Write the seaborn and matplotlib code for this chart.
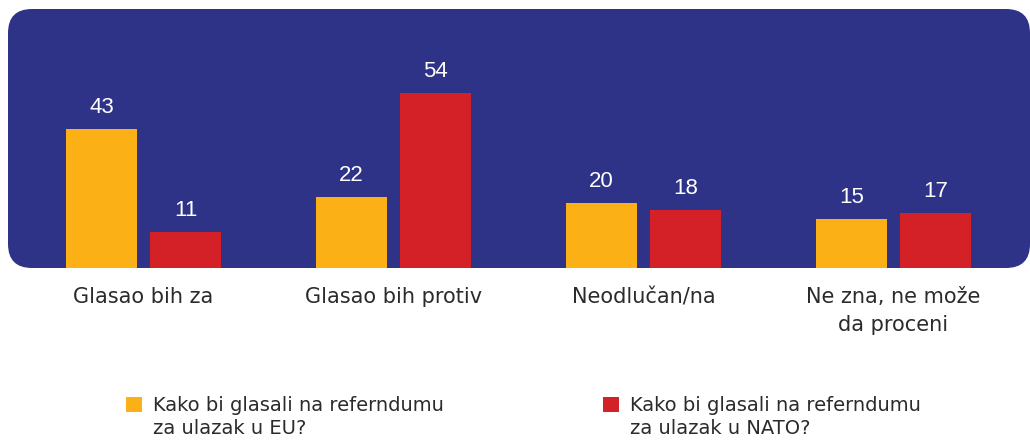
import pandas as pd
import matplotlib.pyplot as plt
import seaborn as sns
from matplotlib.patches import FancyBboxPatch, Patch, Rectangle
from matplotlib.legend_handler import HandlerPatch

# data
categories = ['Glasao bih za', 'Glasao bih protiv', 'Neodlučan/na', 'Ne zna, ne može\nda proceni']
series_names = ['Kako bi glasali na referndumu\nza ulazak u EU?',
                'Kako bi glasali na referndumu\nza ulazak u NATO?']
eu_values = [43, 22, 20, 15]
nato_values = [11, 54, 18, 17]

colors = ['#FBB116', '#D42027']
bg_color = '#2E3388'
text_color = '#2B2B2B'
legend_fs = 14
legend_ls = 1.3

df = pd.DataFrame({
    'category': categories * 2,
    'series': [series_names[0]] * 4 + [series_names[1]] * 4,
    'value': eu_values + nato_values,
})

sns.set_style('white')
plt.rcParams['font.family'] = ['DejaVu Sans']

fig = plt.figure(figsize=(10.30, 4.41), dpi=100)

# rounded dark blue panel behind the bars
panel = FancyBboxPatch((0.08, 1.73), 10.22, 2.59,
                       boxstyle='round,pad=0,rounding_size=0.24',
                       transform=fig.dpi_scale_trans,
                       facecolor=bg_color, edgecolor='none', zorder=-1)
fig.patches.append(panel)

ax = fig.add_axes([8 / 1030, 173 / 441, 1022 / 1030, 259 / 441])
ax.patch.set_alpha(0)

sns.barplot(data=df, x='category', y='value', hue='series', palette=colors,
            width=0.672, gap=0.155, saturation=1, linewidth=0, ax=ax, legend=False)

for cont in ax.containers:
    ax.bar_label(cont, padding=8, color='white', fontsize=16,
                 family='Liberation Sans')

ax.set_xlim(-0.542, 3.546)
ax.set_ylim(0, 80)
ax.set_xlabel('')
ax.set_ylabel('')
ax.set_yticks([])
ax.tick_params(axis='x', length=0, pad=14, labelsize=15, labelcolor=text_color)
for lab in ax.get_xticklabels():
    lab.set_linespacing(1.5)
sns.despine(ax=ax, left=True, bottom=True)


# square marker next to the first line of the two-line label
def top_square(legend, orig_handle, xdescent, ydescent, width, height, fontsize):
    return Rectangle((-xdescent, -ydescent + 9.5), width, height)


handles = [Patch(facecolor=c, edgecolor='none') for c in colors]
leg = fig.legend(handles, series_names, ncol=2, frameon=False,
                 loc='upper left', bbox_to_anchor=(126 / 1030, 1 - 396 / 441),
                 fontsize=legend_fs, labelcolor=text_color,
                 handlelength=0.82, handleheight=0.82, handletextpad=0.55,
                 columnspacing=8.2, borderaxespad=0, borderpad=0,
                 handler_map={Patch: HandlerPatch(patch_func=top_square)})
for t in leg.get_texts():
    t.set_linespacing(legend_ls)

fig.savefig('out.png', dpi=100)
